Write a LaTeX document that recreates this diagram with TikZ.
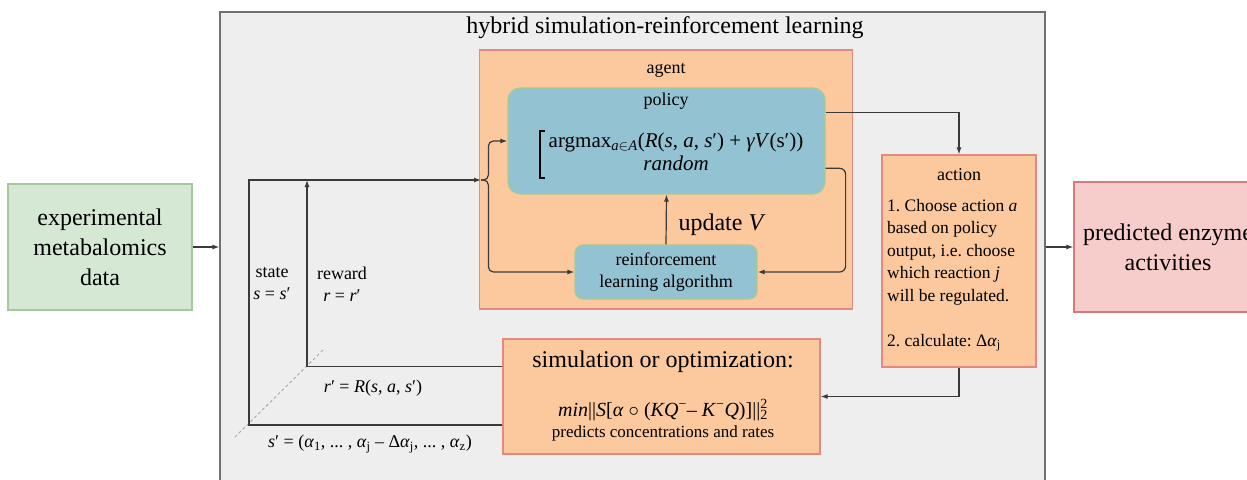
\documentclass[tikz,border=0pt]{standalone}
\usepackage{fontspec}
\setmainfont{Liberation Serif}
\usetikzlibrary{arrows.meta,calc}
\frenchspacing

\definecolor{panelfill}{HTML}{EEEEEE}
\definecolor{panelline}{HTML}{707070}
\definecolor{peach}{HTML}{FCC89E}
\definecolor{peachline}{HTML}{E28A80}
\definecolor{steel}{HTML}{93C2D3}
\definecolor{steelline}{HTML}{A8CB8E}
\definecolor{mint}{HTML}{D5E8D4}
\definecolor{mintline}{HTML}{A3CC98}
\definecolor{rose}{HTML}{F7CDCB}
\definecolor{roseline}{HTML}{D9777A}
\definecolor{wire}{HTML}{3A3A3A}

\tikzset{
  big/.style={font=\fontsize{24}{30}\selectfont},
  mid/.style={font=\fontsize{21}{23}\selectfont},
  small/.style={font=\fontsize{18}{22}\selectfont},
  box/.style={draw, line width=1.2pt, inner sep=0pt},
  peachbox/.style={box, fill=peach, draw=peachline},
  steelbox/.style={box, fill=steel, draw=steelline, rounded corners=12pt},
  wirepath/.style={draw=wire, line width=1.2pt},
  arrow/.style={wirepath, -{Latex[length=7pt,width=5pt]}},
  guide/.style={draw=gray!70, line width=0.9pt, dash pattern=on 3pt off 2.5pt},
}

\begin{document}
\begin{tikzpicture}[x=1pt,y=-1pt]
\useasboundingbox (0,0) rectangle (1247,479);
\clip (0,0) rectangle (1247,479);
\fill[white] (0,0) rectangle (1247,479);

% outer panel and its title
\node[box, fill=panelfill, draw=panelline, minimum width=825pt, minimum height=480pt]
  (panel) at (632.5,252) {};
\node[big] (title) at (665,28) {hybrid simulation-reinforcement learning};

% input and output boxes
\node[box, fill=mint, draw=mintline, minimum width=184pt, minimum height=126pt,
  big, align=center] (data) at (100,247) {experimental\\metabalomics\\data};
\node[box, fill=rose, draw=roseline, minimum width=188pt, minimum height=130pt,
  big, align=center] (enzyme) at (1168,247) {predicted enzyme\\activities};

% agent
\node[peachbox, minimum width=373pt, minimum height=259pt] (agent) at (666,179.5) {};
\node[small] (agentlbl) at (666,70) {agent};

\node[steelbox, minimum width=317pt, minimum height=106pt] (policy) at (666.5,141) {};
\node[small] (policylbl) at (666,101) {policy};
\node[mid, align=center] (rule) at (676,151.5)
  {argmax\textsubscript{\textit{a}$\in$\textit{A}}(\textit{R}(\textit{s}, \textit{a}, \textit{s}′) + \textit{γV}(s′))\\\textit{random}};
\draw[line width=2pt] (544.5,131) -- (539.5,131) -- (539.5,178) -- (544.5,178);

\node[steelbox, rounded corners=8pt, minimum width=182pt, minimum height=54pt,
  small, align=center] (rl) at (666,272) {reinforcement\\learning algorithm};
\node[big] (upd) at (722,225) {update \textit{V}};

% action
\node[peachbox, minimum width=154pt, minimum height=212pt] (action) at (959,261) {};
\node[small] (actionlbl) at (959,175) {action};
\node[font=\fontsize{17.5}{22.5}\selectfont, align=left, anchor=north west, inner sep=0pt]
  (actiontxt) at (887,199)
  {1. Choose action \textit{a}\\based on policy\\output, i.e. choose\\which reaction \textit{j}\\will be regulated.\\[22.5pt]2. calculate: Δ\textit{α}\textsubscript{j}};

% simulation
\node[peachbox, minimum width=317pt, minimum height=115pt] (sim) at (661.5,396.5) {};
\node[big] (simlbl) at (663,362) {simulation or optimization:};
\node[font=\fontsize{20}{22}\selectfont] (simeq) at (663,410)
  {\textit{min}||\textit{S}[\textit{α} $\circ$ (\textit{KQ}\textsuperscript{−}– \textit{K}\textsuperscript{−}\textit{Q})]||\makebox[0pt][l]{\textsuperscript{2}}\textsubscript{2}};
\node[font=\fontsize{17}{20}\selectfont] (simnote) at (663,433) {predicts concentrations and rates};

% feedback labels
\node[small, align=center] (statelbl) at (272,284) {state\\\textit{s} = \textit{s}′};
\node[small, align=center] (rewardlbl) at (342,284) {reward\\\textit{r} = \textit{r}′};
\node[small] (rdef) at (373,388) {\textit{r}′ = \textit{R}(\textit{s}, \textit{a}, \textit{s}′)};
\node[small] (sdef) at (370,444)
  {\textit{s}′ = (\textit{α}\textsubscript{1}, ... , \textit{α}\textsubscript{j} – Δ\textit{α}\textsubscript{j}, ... , \textit{α}\textsubscript{z})};

% named points of the feedback wiring
\coordinate (rOut) at ($(sim.north west)!0.245!(sim.south west)$);
\coordinate (sOut) at ($(sim.north west)!0.745!(sim.south west)$);
\coordinate (rTop) at (307,180);
\coordinate (sTop) at (249,180);
\coordinate (fork) at (481,180);
\coordinate (pOut1) at ($(policy.north east)!0.236!(policy.south east)$);
\coordinate (pOut2) at ($(policy.north east)!0.755!(policy.south east)$);
\coordinate (gA) at (323,350);
\coordinate (gB) at (235,437);

\draw[guide] (gA) -- (gB);

% connectors
\draw[arrow] (data.east) -- (data.east -| panel.west);
\draw[arrow] (panel.east |- enzyme.west) -- (enzyme.west);
\draw[arrow] (sOut) -| (sTop) -- (fork);
\draw[arrow] (rOut) -| (rTop);
\draw[arrow, rounded corners=5pt] (fork) -| ($(policy.west)+(-19,0)$) -- (policy.west);
\draw[arrow, rounded corners=5pt] (fork) -| ($(rl.west)+(-86,0)$) -- (rl.west);
\draw[arrow] (rl.north) -- (policy.south);
\draw[arrow, rounded corners=6pt] (pOut2) -| ($(rl.east)+(88,0)$) -- (rl.east);
\draw[arrow] (pOut1) -| (action.north);
\draw[arrow] (action.south) |- (sim.east);
\end{tikzpicture}
\end{document}
